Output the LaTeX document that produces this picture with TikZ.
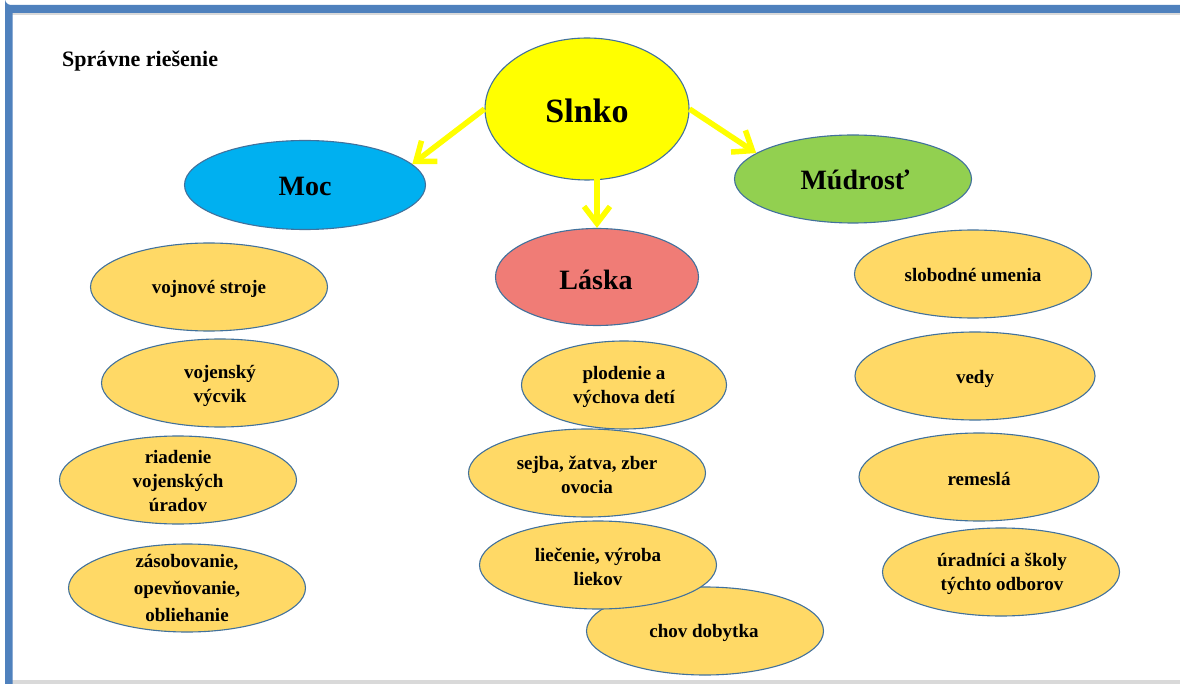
\documentclass[tikz,border=0pt]{standalone}
\usepackage{fontspec}
\setmainfont{Liberation Serif}
\usetikzlibrary{shapes.geometric,arrows.meta}
\definecolor{frameblue}{HTML}{4F81BD}
\definecolor{leafyellow}{HTML}{FFD966}
\definecolor{edgeblue}{HTML}{41719C}
\definecolor{mocblue}{HTML}{00B0F0}
\definecolor{mudgreen}{HTML}{92D050}
\definecolor{laskared}{HTML}{F07C76}
\definecolor{sunyellow}{HTML}{FFFF00}
\tikzset{
  oval/.style={ellipse, draw=edgeblue, line width=1.1pt, inner sep=0pt},
  leaf/.style={oval, fill=leafyellow, minimum width=237pt, minimum height=88pt},
  txt/.style={align=center, font=\fontsize{19}{24}\selectfont\bfseries, inner sep=0pt},
  bigtxt/.style={font=\fontsize{28}{32}\selectfont\bfseries, inner sep=0pt},
  sunarrow/.style={draw=sunyellow, line width=5.5pt, -{Straight Barb[length=17pt,width=26pt]}}
}
\begin{document}
\begin{tikzpicture}[x=1pt,y=-1pt]
\useasboundingbox (0,0) rectangle (1180,684);
% frame
\fill[white] (0,0) rectangle (1180,684);
\fill[black!15] (12,13) rectangle (1180,15.5);
\fill[black!15] (12,680) rectangle (1180,684);
\fill[frameblue] (1180,5) -- (11,5) arc[start angle=90,end angle=180,radius=6] -- (5,684) -- (12.5,684) -- (12.5,13) -- (1180,13) -- cycle;
% title
\node[anchor=base west, font=\fontsize{22}{24}\selectfont\bfseries, inner sep=0pt] (title) at (62,67) {Správne riešenie};
% main ovals
\node[oval, fill=sunyellow, minimum width=204pt, minimum height=142pt] (slnko) at (587,109) {};
\node[bigtxt, font=\fontsize{34}{38}\selectfont\bfseries] (tslnko) at (587,111) {Slnko};
\node[oval, fill=mocblue, minimum width=241pt, minimum height=89pt] (moc) at (305,185) {};
\node[bigtxt] (tmoc) at (305,186) {Moc};
\node[oval, fill=mudgreen, minimum width=237pt, minimum height=88pt] (mudrost) at (853,179) {};
\node[bigtxt] (tmudrost) at (855,180) {Múdrosť};
\node[oval, fill=laskared, minimum width=203pt, minimum height=97pt] (laska) at (597,277) {};
\node[bigtxt] (tlaska) at (596,280) {Láska};
% arrows
\draw[sunarrow] (slnko.west) -- (moc.11);
\draw[sunarrow] ([yshift=4pt]slnko.south -| laska.north) -- (laska.north);
\draw[sunarrow] (slnko.east) -- (mudrost.165);
% left column
\node[leaf] (l1) at (209,287) {};
\node[txt] (tl1) at (209,289) {vojnové stroje};
\node[leaf] (l2) at (220,383) {};
\node[txt] (tl2) at (220,386) {vojenský\\výcvik};
\node[leaf] (l3) at (178,480) {};
\node[txt] (tl3) at (178,481) {riadenie\\vojenských\\úradov};
\node[leaf] (l4) at (187,588) {};
\node[txt, font=\fontsize{19}{27}\selectfont\bfseries] (tl4) at (187,588) {zásobovanie,\\opevňovanie,\\obliehanie};
% middle column
\node[leaf, minimum width=205pt] (m1) at (624,385) {};
\node[txt] (tm1) at (624,387) {plodenie a\\výchova detí};
\node[leaf] (m2) at (587,473) {};
\node[txt] (tm2) at (587,475) {sejba, žatva, zber\\ovocia};
\node[leaf] (m4) at (705,631) {};
\node[txt] (tm4) at (704,633) {chov dobytka};
\node[leaf] (m3) at (598,565) {};
\node[txt] (tm3) at (598,567) {liečenie, výroba\\liekov};
% right column
\node[leaf] (r1) at (973,274) {};
\node[txt] (tr1) at (973,275) {slobodné umenia};
\node[leaf, minimum width=240pt] (r2) at (975,376) {};
\node[txt] (tr2) at (975,379) {vedy};
\node[leaf, minimum width=240pt] (r3) at (979,477) {};
\node[txt] (tr3) at (979,479) {remeslá};
\node[leaf] (r4) at (1001,572) {};
\node[txt] (tr4) at (1002,574) {úradníci a školy\\týchto odborov};
\end{tikzpicture}
\end{document}
